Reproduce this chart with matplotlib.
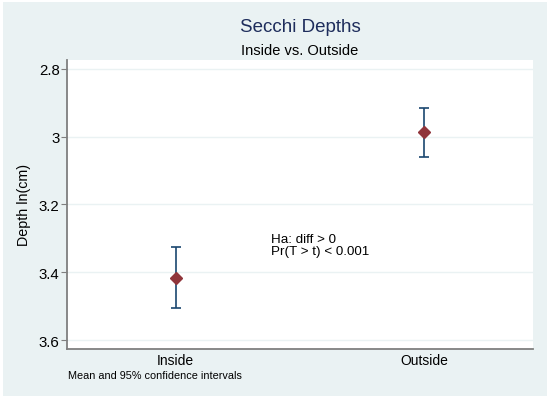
import matplotlib
matplotlib.use("Agg")
import matplotlib.pyplot as plt
from matplotlib.patches import Rectangle

# data
groups = ["Inside", "Outside"]
means = [3.417, 2.986]
ci_low = [3.326, 2.9165]
ci_high = [3.507, 3.059]
yticks = [2.8, 3.0, 3.2, 3.4, 3.6]
yticklabels = ["2.8", "3", "3.2", "3.4", "3.6"]

plt.rcParams['font.family'] = ['Liberation Sans', 'DejaVu Sans']

bg = "#EAF2F3"
fig = plt.figure(figsize=(5.5, 4.02), dpi=100, facecolor="white")
# light outer panel, with a thin white border
fig.patches.append(Rectangle((3/550, 5/402), 544/550, 394/402, transform=fig.transFigure,
                             facecolor=bg, edgecolor="none", zorder=-10))

ax = fig.add_axes([67/550, (402-349.5)/402, 466/550, (349.5-61)/402])
ax.set_facecolor("white")

x = list(range(len(groups)))
err_lo = [m - l for m, l in zip(means, ci_low)]
err_hi = [h - m for m, h in zip(means, ci_high)]
ax.errorbar(x, means, yerr=[err_lo, err_hi], fmt="none", ecolor="#1A476F",
            elinewidth=1.2, capsize=3.5, capthick=1.2, zorder=2)
ax.plot(x, means, linestyle="none", marker="D", markersize=6.5,
        color="#90353B", zorder=3)

ax.set_xlim(-0.437, 1.437)
ax.set_ylim(3.625, 2.774)
ax.set_yticks(yticks)
ax.set_yticklabels(yticklabels)
ax.set_xticks(x)
ax.set_xticklabels(groups)
ax.grid(axis="y", color=bg, linewidth=1.0)
ax.set_axisbelow(True)

for s in ["top", "right"]:
    ax.spines[s].set_visible(False)
for s in ["left", "bottom"]:
    ax.spines[s].set_color("#7F7F7F")
    ax.spines[s].set_linewidth(1.3)

ax.tick_params(axis="y", direction="out", length=4.5, width=0.8, color="#7F7F7F",
               labelsize=10.8, pad=0.8)
ax.tick_params(axis="x", length=0, labelsize=10, pad=3)
ax.set_ylabel("Depth ln(cm)", fontsize=10.3, labelpad=6)

ax.text(0.382, 3.302, "Ha: diff > 0", fontsize=9.6, ha="left", va="center")
ax.text(0.382, 3.338, "Pr(T > t) < 0.001", fontsize=9.6, ha="left", va="center")

fig.text(300/550, 1 - 28/402, "Secchi Depths", fontsize=13.5, color="#1E2D5C",
         ha="center", va="center")
fig.text(300/550, 1 - 51/402, "Inside vs. Outside", fontsize=10.5, ha="center", va="center")
fig.text(68/550, 1 - 376/402, "Mean and 95% confidence intervals", fontsize=7.8,
         ha="left", va="center")

fig.savefig("out.png", dpi=100, facecolor=fig.get_facecolor())
